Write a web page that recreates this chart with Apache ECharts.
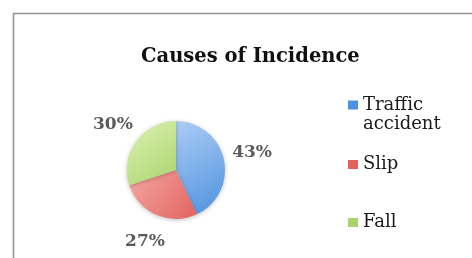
<!DOCTYPE html>
<html>
<head>
<meta charset="utf-8">
<script src="https://cdn.jsdelivr.net/npm/echarts@6/dist/echarts.min.js"></script>
<style>
  html, body { margin: 0; padding: 0; background: #fff; }
  #chart { width: 472px; height: 258px; }
</style>
</head>
<body>
<div id="chart"></div>
<script>
// data
var causes = ['Traffic accident', 'Slip', 'Fall'];
var shares = [43, 27, 30];
var colorsLight = ['#acccf4', '#f4a9a4', '#def2b4'];
var colorsDark = ['#4d92de', '#e2615e', '#a9d46c'];

var chart = echarts.init(document.getElementById('chart'));

var pieData = causes.map(function (name, i) {
  return {
    name: name,
    value: shares[i],
    itemStyle: {
      color: new echarts.graphic.LinearGradient(0, 0, 1, 1, [
        { offset: 0, color: colorsLight[i] },
        { offset: 1, color: colorsDark[i] }
      ])
    }
  };
});

var font = 'DejaVu Serif';

// one legend per item so each can sit where it does in the picture
function legendFor(i, top) {
  return {
    orient: 'vertical',
    left: 348,
    top: top,
    padding: 0,
    itemWidth: 10,
    itemHeight: 9,
    icon: 'rect',
    selectedMode: false,
    data: [{ name: causes[i], itemStyle: { color: colorsDark[i] } }],
    // empty first line keeps the icon level with "Traffic"
    formatter: i === 0 ? '{e| }\nTraffic\naccident' : '{name}',
    textStyle: {
      fontFamily: font, fontSize: 18, color: '#1a1a1a',
      lineHeight: 19,
      rich: { e: { lineHeight: 19, fontSize: 18 } }
    }
  };
}

var option = {
  animation: false,
  title: {
    text: 'Causes of Incidence',
    left: 141,
    top: 47,
    padding: 0,
    textStyle: { fontFamily: font, fontSize: 19.5, fontWeight: 'bold', color: '#111' }
  },
  graphic: [{
    type: 'rect',
    shape: { x: 13.5, y: 13.5, width: 600, height: 400 },
    style: { fill: 'none', stroke: '#949494', lineWidth: 1.6 },
    silent: true
  }],
  legend: [legendFor(0, 76.5), legendFor(1, 155), legendFor(2, 213)],
  series: [{
    type: 'pie',
    center: [176, 170],
    radius: 49,
    startAngle: 90,
    clockwise: true,
    silent: true,
    label: { show: false },
    labelLine: { show: false },
    itemStyle: { shadowBlur: 4, shadowColor: 'rgba(0,0,0,0.25)', shadowOffsetY: 1 },
    data: pieData
  }, {
    // transparent ring just to place the percent labels around the pie
    type: 'pie',
    center: [176, 170],
    radius: [49, 101],
    startAngle: 90,
    clockwise: true,
    silent: true,
    legendHoverLink: false,
    label: {
      position: 'inside',
      formatter: '{c}%',
      fontFamily: font, fontSize: 17, fontWeight: 'bold', color: '#5a5a5a'
    },
    labelLine: { show: false },
    itemStyle: { color: 'rgba(0,0,0,0)' },
    data: causes.map(function (name, i) { return { name: name, value: shares[i] }; })
  }]
};

chart.setOption(option);
</script>
</body>
</html>
